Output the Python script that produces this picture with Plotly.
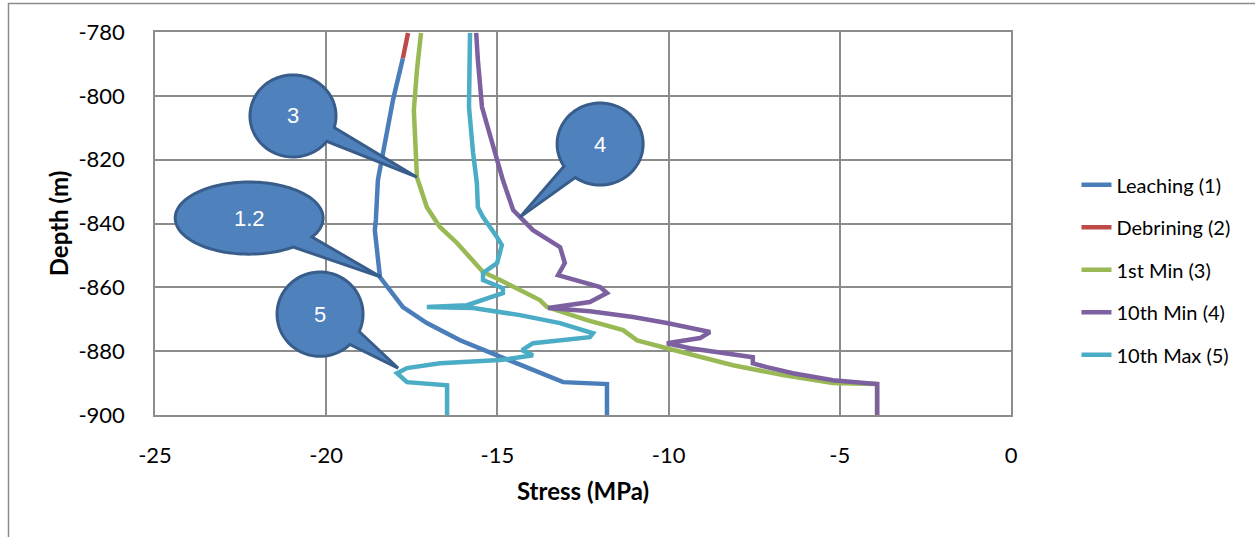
import numpy as np
import plotly.graph_objects as go

# ---------------- data ----------------
leach_x = [-17.76, -18.05, -18.34, -18.49, -18.55, -18.58, -18.43, -17.76, -17.06, -16.09,
           -15.01, -14.14, -13.08, -11.8, -11.8]
leach_y = [-788.2, -801.3, -817.9, -826.4, -838.9, -842.1, -856.8, -866.2, -871.2, -876.6,
           -881.3, -885.0, -889.7, -890.3, -900.0]

debr_x = [-17.61, -17.76]
debr_y = [-780.3, -788.2]

min1_x = [-17.23, -17.35, -17.44, -17.38, -17.35, -17.06, -16.68, -16.18, -15.42, -14.92,
          -13.76, -13.55, -12.38, -11.33, -10.92, -10.05, -9.08, -8.12, -6.66, -5.2, -3.91, -3.91]
min1_y = [-780.3, -791.9, -804.5, -817.9, -825.5, -834.9, -841.1, -846.1, -855.2, -857.7,
          -864.0, -866.2, -870.3, -873.4, -876.6, -879.1, -881.9, -884.4, -887.5, -890.0, -890.3, -900.0]

min10_x = [-15.62, -15.57, -15.45, -15.13, -14.84, -14.54, -14.34, -13.96, -13.17, -13.03,
           -13.23, -12.0, -11.8, -12.3, -13.52, -12.3, -11.04, -10.05, -8.79, -9.08,
           -10.05, -9.37, -7.54, -7.54, -7.13, -6.37, -5.2, -3.91, -3.91]
min10_y = [-780.3, -788.8, -803.5, -816.1, -826.4, -835.8, -838.0, -842.1, -847.4, -852.4,
           -856.2, -859.9, -861.8, -864.6, -866.5, -867.5, -869.3, -871.2, -874.0, -875.9,
           -877.5, -879.1, -881.9, -883.8, -885.0, -886.9, -889.1, -890.3, -900.0]

max10_x = [-15.8, -15.83, -15.71, -15.6, -15.57, -15.42, -15.01, -14.87, -15.01, -15.42,
           -15.42, -14.84, -14.84, -15.89, -17.06, -15.71, -14.34, -13.17, -12.21, -12.3,
           -13.96, -14.28, -13.96, -14.92, -16.68, -17.64, -17.93, -17.64, -16.47, -16.47]
max10_y = [-780.3, -803.5, -817.9, -827.3, -834.9, -838.0, -844.3, -846.8, -852.4, -855.5,
           -857.7, -860.3, -861.8, -865.6, -866.2, -866.5, -868.7, -871.2, -874.4, -875.6,
           -877.5, -879.7, -881.3, -882.8, -883.8, -885.3, -886.9, -889.7, -890.7, -900.0]

series_names = ["Leaching (1)", "Debrining (2)", "1st Min (3)", "10th Min (4)", "10th Max (5)"]
series_colors = ["#4A7EBB", "#BE4B48", "#98B954", "#7D60A0", "#4BACC6"]

x_ticks = [-25, -20, -15, -10, -5, 0]
y_ticks = [-780, -800, -820, -840, -860, -880, -900]

# callouts: label, centre x, centre y, radius x, radius y, tip x, tip y
callout_labels = ["3", "4", "1.2", "5"]
callout_cx = [-20.97, -12.0, -22.25, -20.18]
callout_cy = [-806.3, -815.1, -838.3, -868.4]
callout_rx = [1.256, 1.256, 2.16, 1.256]
callout_ry = [12.85, 12.85, 11.3, 13.2]
callout_tx = [-17.35, -14.34, -18.40, -17.9]
callout_ty = [-825.5, -838.0, -856.8, -885.3]

# ---------------- figure ----------------
fig = go.Figure()
xs = [leach_x, debr_x, min1_x, min10_x, max10_x]
ys = [leach_y, debr_y, min1_y, min10_y, max10_y]
for i, (nm, col) in enumerate(zip(series_names, series_colors)):
    fig.add_trace(go.Scatter(x=xs[i], y=ys[i], mode="lines", name=nm,
                             legendgroup=str(i),
                             line=dict(color=col, width=4.5)))

# callout shapes
for lab, cx, cy, rx, ry, tx, ty in zip(callout_labels, callout_cx, callout_cy, callout_rx,
                                       callout_ry, callout_tx, callout_ty):
    ang = np.arctan2((ty - cy) / ry, (tx - cx) / rx)
    half = 0.19
    ts = np.linspace(ang + half, ang + 2 * np.pi - half, 120)
    px = cx + rx * np.cos(ts)
    py = cy + ry * np.sin(ts)
    path = "M %f,%f " % (px[0], py[0])
    path += " ".join("L %f,%f" % (a, b) for a, b in zip(px[1:], py[1:]))
    path += " L %f,%f Z" % (tx, ty)
    fig.add_shape(type="path", path=path, xref="x", yref="y",
                  fillcolor="#4F81BD", line=dict(color="#385D8A", width=3), layer="above")
    fig.add_annotation(x=cx, y=cy, text=lab, showarrow=False, xref="x", yref="y",
                       font=dict(family="Liberation Sans, Arial", size=22, color="white"))

# outer chart border (top & left)
fig.add_shape(type="rect", xref="paper", yref="paper",
              x0=(8.5 - 155) / 856, x1=(1265 - 155) / 856,
              y0=(415 - 560) / 383, y1=(415 - 3.5) / 383,
              line=dict(color="#8C8C8C", width=1.5), fillcolor="rgba(0,0,0,0)", layer="below")

axis_font = dict(family="Lato, Open Sans, sans-serif", size=22, color="black")
title_font = dict(family="Lato, Open Sans, sans-serif", size=24, color="black")
fig.update_xaxes(range=[-25, 0], tickvals=x_ticks, ticktext=[str(v) for v in x_ticks],
                 showgrid=True, gridcolor="#8C8C8C", gridwidth=1.5,
                 showline=True, linecolor="#8C8C8C", linewidth=1.5, mirror=True,
                 zeroline=False, ticks="", ticklabelstandoff=20, tickfont=axis_font,
                 title=dict(text="<b>Stress (MPa)</b>", font=title_font, standoff=16))
fig.update_yaxes(range=[-900, -780], tickvals=y_ticks, ticktext=[str(v) for v in y_ticks],
                 showgrid=True, gridcolor="#8C8C8C", gridwidth=1.5,
                 showline=True, linecolor="#8C8C8C", linewidth=1.5, mirror=True,
                 zeroline=False, ticks="", ticklabelstandoff=24, tickfont=axis_font,
                 title=dict(text="<b>Depth (m)</b>", font=title_font, standoff=3))

fig.update_layout(
    width=1255, height=537,
    margin=dict(l=155, r=244, t=32, b=122),
    paper_bgcolor="white", plot_bgcolor="white",
    showlegend=True,
    legend=dict(x=1.0765, y=0.379, xanchor="left", yanchor="middle",
                font=dict(family="Lato, Open Sans, sans-serif", size=20, color="black"),
                tracegroupgap=13.5, bgcolor="rgba(0,0,0,0)"),
)

fig.write_html("out.html", config={"displayModeBar": False},
               post_script="document.body.style.margin='0';document.body.style.overflow='hidden';")
